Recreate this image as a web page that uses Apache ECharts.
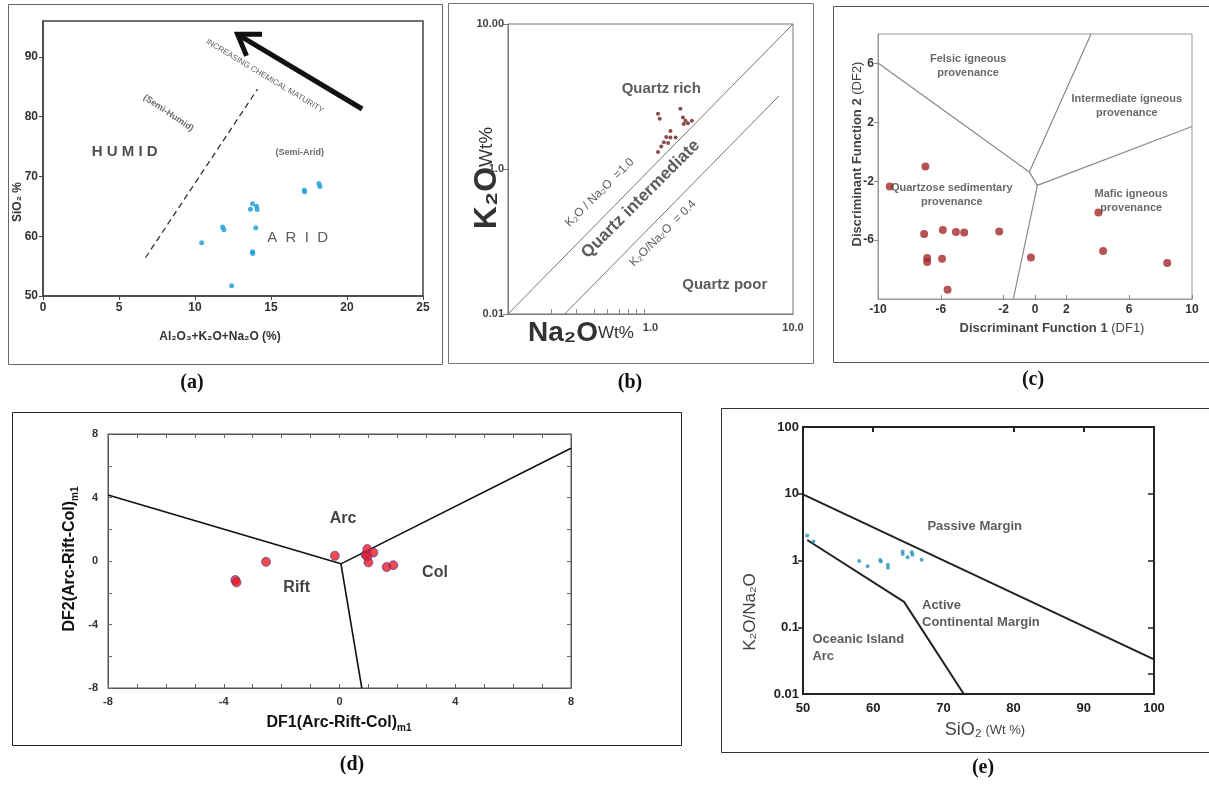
<!DOCTYPE html>
<html><head><meta charset="utf-8">
<script src="https://cdn.jsdelivr.net/npm/echarts@6/dist/echarts.min.js"></script>
<style>html,body{margin:0;padding:0;background:#fff}#c{width:1209px;height:788px}</style>
</head><body><div id="c"></div>
<script>
// ---------- Panel (a): SiO2 vs Al2O3+K2O+Na2O ----------
const aTotal = [10.44, 11.82, 11.9, 12.41, 13.78, 13.65, 14.05, 14.09, 14.0, 13.78, 13.8, 17.19, 17.21, 18.15, 18.22];
const aSiO2  = [58.9, 61.55, 61.1, 51.7, 65.45, 64.5, 65.0, 64.45, 61.4, 57.4, 57.1, 67.7, 67.45, 68.8, 68.3];
const aXTicks = [0, 5, 10, 15, 20, 25];
const aYTicks = [50, 60, 70, 80, 90];
const aBoundary = [[6.74, 56.4], [14.11, 84.6]];
const aArrowShaft = [[21.0, 81.28], [12.8, 93.78]];
const aArrowHead = [[14.41, 93.8], [12.8, 93.78], [13.39, 90.17]];

// ---------- Panel (b): K2O vs Na2O (log-log) ----------
const bNa2O = [1.129, 1.16, 1.62, 1.69, 1.76, 1.71, 1.83, 1.95, 1.38, 1.29, 1.38, 1.50, 1.24, 1.33, 1.19, 1.129];
const bK2O  = [2.40, 2.22, 2.60, 2.27, 2.15, 2.04, 2.07, 2.15, 1.83, 1.66, 1.65, 1.65, 1.53, 1.51, 1.43, 1.31];
const bXTickValues = [1, 10];
const bXTickLabels = ['1.0', '10.0'];
const bYTickValues = [0.1, 1, 10];
const bYTickLabels = ['0.01', '1.0', '10.00'];
const bMinorTicks = [0.2, 0.3, 0.4, 0.5, 0.6, 0.7, 0.8, 0.9];
const bRatio10 = [[0.1, 0.1], [10, 10]];
const bRatio04 = [[0.25, 0.1], [8, 3.2]];

// ---------- Panel (c): discriminant functions (provenance) ----------
const cDF1 = [-9.25, -6.98, -7.06, -6.87, -6.87, -5.87, -5.04, -4.51, -5.92, -5.57, -2.28, -0.26, 4.04, 4.34, 8.42];
const cDF2 = [-2.35, -1.0, -5.59, -7.22, -7.49, -5.32, -5.45, -5.48, -7.26, -9.37, -5.41, -7.18, -4.12, -6.74, -7.56];
const cXTicks = [-10, -6, -2, 0, 2, 6, 10];
const cYTicks = [-6, -2, 2, 6];
const cBoundaries = [
  [[-10, 6.03], [-0.36, -1.38], [3.57, 8]],
  [[-0.36, -1.38], [0.15, -2.28], [10, 1.72]],
  [[0.15, -2.28], [-1.38, -10]]
];

// ---------- Panel (d): DF1 / DF2 (Arc-Rift-Col) ----------
const dDF1 = [-3.6, -3.56, -2.54, -0.16, 0.9, 0.96, 1.17, 0.96, 1.0, 1.63, 1.86];
const dDF2 = [-1.2, -1.35, -0.05, 0.33, 0.4, 0.75, 0.53, 0.28, -0.09, -0.38, -0.26];
const dLabelTicks = [-8, -4, 0, 4, 8];
const dXMinorTicks = [-8,-7,-6,-5,-4,-3,-2,-1,0,1,2,3,4,5,6,7,8];
const dYMinorTicks = [-8,-6,-4,-2,0,2,4,6,8];
const dBoundaries = [
  [[-8, 4.16], [0.05, -0.18], [8, 7.1]],
  [[0.05, -0.18], [0.77, -8]]
];

// ---------- Panel (e): K2O/Na2O vs SiO2 ----------
const eSiO2  = [50.6, 51.5, 58.0, 59.2, 61.0, 61.1, 62.1, 62.1, 64.2, 64.2, 64.9, 65.5, 65.6, 66.9];
const eRatio = [2.37, 1.92, 0.986, 0.818, 1.02, 0.97, 0.867, 0.78, 1.36, 1.25, 1.12, 1.33, 1.22, 1.03];
const eXTicks = [50, 60, 70, 80, 90, 100];
const eYTicks = [0.01, 0.1, 1, 10, 100];
const eYTickLabels = ['0.01', '0.1', '1', '10', '100'];
const ePassive = [[50, 9.8], [100, 0.033]];
const eArc = [[50.6, 2.03], [64.4, 0.24], [72.9, 0.01]];

// ---------- helpers ----------
const FONT = "'Liberation Sans', Arial, Helvetica, sans-serif";
const SERIF = "'Liberation Serif', 'Times New Roman', serif";
const pts = (xs, ys) => xs.map((x, i) => [x, ys[i]]);
const lbl = (vals, labels) => v => {
  const i = vals.findIndex(t => Math.abs(t - v) < 1e-9 * Math.max(1, Math.abs(t)) || (t > 0 && v > 0 && Math.abs(Math.log10(t) - Math.log10(v)) < 1e-6));
  return i >= 0 ? labels[i] : '';
};
function lineS(xi, yi, data, style) {
  return { type: 'line', xAxisIndex: xi, yAxisIndex: yi, data, symbol: 'none', silent: true, z: 3,
    lineStyle: style, animation: false };
}
function notes(xi, yi, list) {
  return { type: 'scatter', xAxisIndex: xi, yAxisIndex: yi, silent: true, z: 6, symbolSize: 1,
    itemStyle: { color: 'rgba(0,0,0,0)' },
    data: list.map(n => ({ value: [n.x, n.y], label: { show: true, position: 'inside', formatter: n.t,
      rotate: n.r || 0, fontSize: n.s, fontWeight: n.w || 'bold', color: n.c || '#333', fontFamily: FONT,
      align: n.a || 'center', lineHeight: n.lh || Math.round(n.s * 1.25) } })) };
}
function valAxis(gi, min, max, o) {
  return Object.assign({ type: 'value', gridIndex: gi, min, max, splitLine: { show: false } }, o);
}
const line = (color, width) => ({ onZero: false, lineStyle: { color, width: width || 1 } });

// ---------- annotation text placements (layout) ----------
const aNotes = [
  { x: 5.38, y: 74.05, t: 'H U M I D', s: 15, c: '#222' },
  { x: 8.25, y: 80.6, t: '(Semi-Humid)', s: 9, r: -34, c: '#444' },
  { x: 16.89, y: 74.05, t: '(Semi-Arid)', s: 9, c: '#444' },
  { x: 16.75, y: 59.8, t: 'A  R  I  D', s: 15, w: 'normal', c: '#333' },
  { x: 14.59, y: 86.8, t: 'INCREASING CHEMICAL MATURITY', s: 8, r: -31, w: 'normal', c: '#333' }
];
const bNotes = [
  { x: 1.19, y: 3.56, t: 'Quartz rich', s: 15 },
  { x: 0.853, y: 0.619, t: 'Quartz intermediate', s: 17, r: 45 },
  { x: 0.44, y: 0.688, t: 'K₂O / Na₂O  =1.0', s: 12, r: 45, w: 'normal' },
  { x: 1.224, y: 0.36, t: 'K₂O/Na₂O  = 0.4', s: 12, r: 45, w: 'normal' },
  { x: 3.32, y: 0.158, t: 'Quartz poor', s: 15 }
];
const cNotes = [
  { x: -4.26, y: 5.8, t: 'Felsic igneous\nprovenance', s: 11, c: '#444' },
  { x: 5.85, y: 3.08, t: 'Intermediate igneous\nprovenance', s: 11, c: '#444' },
  { x: -5.3, y: -2.92, t: 'Quartzose sedimentary\nprovenance', s: 11, c: '#444' },
  { x: 6.13, y: -3.37, t: 'Mafic igneous\nprovenance', s: 11, c: '#444' }
];
const dNotes = [
  { x: 0.12, y: 2.7, t: 'Arc', s: 16, c: '#111' },
  { x: -1.48, y: -1.67, t: 'Rift', s: 16, c: '#111' },
  { x: 3.3, y: -0.7, t: 'Col', s: 16, c: '#111' }
];
const eNotes = [
  { x: 74.46, y: 3.26, t: 'Passive Margin', s: 13 },
  { x: 66.95, y: 0.158, t: 'Active\nContinental Margin', s: 13, a: 'left', lh: 17 },
  { x: 51.34, y: 0.0489, t: 'Oceanic Island\nArc', s: 13, a: 'left', lh: 17 }
];

const tickFont = (s, c) => ({ fontSize: s, fontWeight: 'bold', color: c || '#333', fontFamily: FONT });

const option = {
  animation: false,
  backgroundColor: '#fff',
  grid: [
    { left: 43, top: 21, width: 380, height: 275, show: true, borderColor: '#444', borderWidth: 1.5 },
    { left: 508, top: 24, width: 285, height: 290, show: true, borderColor: '#777', borderWidth: 1 },
    { left: 878, top: 34, width: 314, height: 265, show: true, borderColor: '#999', borderWidth: 1 },
    { left: 108, top: 434, width: 463, height: 254, show: true, borderColor: '#555', borderWidth: 1 },
    { left: 803, top: 427, width: 351, height: 267, show: true, borderColor: '#222', borderWidth: 2 }
  ],
  xAxis: [
    valAxis(0, 0, 25, { axisLine: line('#444', 1.5),
      axisTick: { customValues: aXTicks, length: 4, lineStyle: { color: '#444' } },
      axisLabel: Object.assign({ customValues: aXTicks, margin: 6 }, tickFont(12)) }),
    { type: 'log', logBase: 10, gridIndex: 1, min: 0.1, max: 10, splitLine: { show: false },
      axisLine: line('#777'),
      axisTick: { customValues: bMinorTicks, inside: true, length: 5, lineStyle: { color: '#888' } },
      axisLabel: Object.assign({ customValues: bXTickValues, formatter: lbl(bXTickValues, bXTickLabels), margin: 8 }, tickFont(11, '#444')) },
    valAxis(2, -10, 10, { axisLine: line('#999'),
      axisTick: { customValues: cXTicks, inside: true, length: 4, lineStyle: { color: '#888' } },
      axisLabel: Object.assign({ customValues: cXTicks, margin: 5 }, tickFont(12)) }),
    valAxis(3, -8, 8, { axisLine: line('#555'),
      axisTick: { customValues: dXMinorTicks, inside: true, length: 4, lineStyle: { color: '#666' } },
      axisLabel: Object.assign({ customValues: dLabelTicks, margin: 8 }, tickFont(11)) }),
    valAxis(3, -8, 8, { position: 'top', axisLine: line('#555'),
      axisTick: { customValues: dXMinorTicks, inside: true, length: 4, lineStyle: { color: '#666' } },
      axisLabel: { show: false } }),
    valAxis(4, 50, 100, { axisLine: line('#222', 2),
      axisTick: { show: false },
      axisLabel: Object.assign({ customValues: eXTicks, margin: 8 }, tickFont(13, '#222')) }),
    valAxis(4, 50, 100, { position: 'top', axisLine: line('#222', 2),
      axisTick: { customValues: [60, 80, 90], inside: true, length: 5, lineStyle: { color: '#222', width: 2 } },
      axisLabel: { show: false } })
  ],
  yAxis: [
    valAxis(0, 50, 96, { axisLine: line('#444', 1.5),
      axisTick: { customValues: aYTicks, length: 4, lineStyle: { color: '#444' } },
      axisLabel: Object.assign({ customValues: aYTicks, margin: 5 }, tickFont(12)) }),
    { type: 'log', logBase: 10, gridIndex: 1, min: 0.1, max: 10, splitLine: { show: false },
      axisLine: line('#777'),
      axisTick: { customValues: bYTickValues, length: 5, lineStyle: { color: '#777' } },
      axisLabel: Object.assign({ customValues: bYTickValues, formatter: lbl(bYTickValues, bYTickLabels), margin: 4 }, tickFont(11, '#444')) },
    valAxis(2, -10, 8, { axisLine: line('#999'),
      axisTick: { customValues: cYTicks, length: 4, lineStyle: { color: '#888' } },
      axisLabel: Object.assign({ customValues: cYTicks, margin: 4 }, tickFont(12)) }),
    valAxis(3, -8, 8, { axisLine: line('#555'),
      axisTick: { customValues: dYMinorTicks, inside: true, length: 4, lineStyle: { color: '#666' } },
      axisLabel: Object.assign({ customValues: dLabelTicks, margin: 10 }, tickFont(11)) }),
    valAxis(3, -8, 8, { position: 'right', axisLine: line('#555'),
      axisTick: { customValues: dYMinorTicks, inside: true, length: 4, lineStyle: { color: '#666' } },
      axisLabel: { show: false } }),
    { type: 'log', logBase: 10, gridIndex: 4, min: 0.01, max: 100, splitLine: { show: false },
      axisLine: line('#222', 2),
      axisTick: { customValues: [0.1, 1, 10], length: 5, lineStyle: { color: '#222', width: 1.5 } },
      axisLabel: Object.assign({ customValues: eYTicks, formatter: lbl(eYTicks, eYTickLabels), margin: 4 }, tickFont(13, '#222')) },
    { type: 'log', logBase: 10, gridIndex: 4, min: 0.01, max: 100, position: 'right', splitLine: { show: false },
      axisLine: line('#222', 2),
      axisTick: { customValues: [0.02, 0.1, 1, 10], inside: true, length: 6, lineStyle: { color: '#222', width: 1.5 } },
      axisLabel: { show: false } }
  ],
  series: [
    // (a)
    lineS(0, 0, aBoundary, { color: '#333', width: 1.3, type: [6, 4] }),
    lineS(0, 0, aArrowShaft, { color: '#111', width: 5 }),
    lineS(0, 0, aArrowHead, { color: '#111', width: 5, join: 'miter' }),
    { type: 'scatter', xAxisIndex: 0, yAxisIndex: 0, data: pts(aTotal, aSiO2), symbolSize: 5,
      itemStyle: { color: '#1a9ad4' }, z: 4 },
    notes(0, 0, aNotes),
    // (b)
    lineS(1, 1, bRatio10, { color: '#777', width: 1 }),
    lineS(1, 1, bRatio04, { color: '#777', width: 1 }),
    { type: 'scatter', xAxisIndex: 1, yAxisIndex: 1, data: pts(bNa2O, bK2O), symbolSize: 4,
      itemStyle: { color: '#6a2121' }, z: 4 },
    notes(1, 1, bNotes),
    // (c)
    ...cBoundaries.map(b => lineS(2, 2, b, { color: '#888', width: 1.2 })),
    { type: 'scatter', xAxisIndex: 2, yAxisIndex: 2, data: pts(cDF1, cDF2), symbolSize: 8,
      itemStyle: { color: '#a3282b' }, z: 4 },
    notes(2, 2, cNotes),
    // (d)
    ...dBoundaries.map(b => lineS(3, 3, b, { color: '#111', width: 1.6 })),
    { type: 'scatter', xAxisIndex: 3, yAxisIndex: 3, data: pts(dDF1, dDF2), symbolSize: 9,
      itemStyle: { color: '#ec1c24', borderColor: '#3b3b9e', borderWidth: 0.8 }, z: 4 },
    notes(3, 3, dNotes),
    // (e)
    lineS(5, 5, ePassive, { color: '#222', width: 2 }),
    lineS(5, 5, eArc, { color: '#222', width: 2 }),
    { type: 'scatter', xAxisIndex: 5, yAxisIndex: 5, data: pts(eSiO2, eRatio), symbolSize: 4,
      itemStyle: { color: '#2b93b8' }, z: 4 },
    notes(5, 5, eNotes)
  ],
  graphic: [
    // panel frames
    { type: 'rect', shape: { x: 8.5, y: 4.5, width: 434, height: 360 }, style: { fill: 'none', stroke: '#666', lineWidth: 1 }, silent: true },
    { type: 'rect', shape: { x: 448.5, y: 3.5, width: 365, height: 360 }, style: { fill: 'none', stroke: '#777', lineWidth: 1 }, silent: true },
    { type: 'rect', shape: { x: 833.5, y: 6.5, width: 380, height: 356 }, style: { fill: 'none', stroke: '#555', lineWidth: 1 }, silent: true },
    { type: 'rect', shape: { x: 12.5, y: 412.5, width: 669, height: 333 }, style: { fill: 'none', stroke: '#222', lineWidth: 1 }, silent: true },
    { type: 'rect', shape: { x: 721.5, y: 408.5, width: 492, height: 344 }, style: { fill: 'none', stroke: '#333', lineWidth: 1 }, silent: true },
    // panel letters
    ...[['(a)', 192, 383], ['(b)', 630, 383], ['(c)', 1033, 380], ['(d)', 352, 765], ['(e)', 983, 768]].map(p => ({
      type: 'text', x: p[1], y: p[2], silent: true,
      style: { text: p[0], fontFamily: SERIF, fontWeight: 'bold', fontSize: 20, fill: '#111', align: 'center', verticalAlign: 'middle' } })),
    // (a) axis titles
    { type: 'text', x: 18, y: 202, rotation: Math.PI / 2, silent: true,
      style: { text: 'SiO₂ %', fontFamily: FONT, fontWeight: 'bold', fontSize: 12, fill: '#333', align: 'center', verticalAlign: 'middle' } },
    { type: 'text', x: 220, y: 337, silent: true,
      style: { text: 'Al₂O₃+K₂O+Na₂O (%)', fontFamily: FONT, fontWeight: 'bold', fontSize: 12, fill: '#333', align: 'center', verticalAlign: 'middle' } },
    // (b) axis titles
    { type: 'text', x: 487, y: 178, rotation: Math.PI / 2, silent: true,
      style: { text: '{a|K₂O}{b|Wt%}', align: 'center', verticalAlign: 'middle',
        rich: { a: { fontFamily: FONT, fontWeight: 'bold', fontSize: 32, fill: '#333' }, b: { fontFamily: FONT, fontSize: 19, fill: '#333' } } } },
    { type: 'text', x: 528, y: 333, silent: true,
      style: { text: '{a|Na₂O}{b|Wt%}', align: 'left', verticalAlign: 'middle',
        rich: { a: { fontFamily: FONT, fontWeight: 'bold', fontSize: 28, fill: '#333' }, b: { fontFamily: FONT, fontSize: 17, fill: '#333' } } } },
    // (c) axis titles
    { type: 'text', x: 1052, y: 328, silent: true,
      style: { text: '{a|Discriminant Function 1 }{b|(DF1)}', align: 'center', verticalAlign: 'middle',
        rich: { a: { fontFamily: FONT, fontWeight: 'bold', fontSize: 13, fill: '#444' }, b: { fontFamily: FONT, fontSize: 13, fill: '#444' } } } },
    { type: 'text', x: 857, y: 154, rotation: Math.PI / 2, silent: true,
      style: { text: '{a|Discriminant Function 2 }{b|(DF2)}', align: 'center', verticalAlign: 'middle',
        rich: { a: { fontFamily: FONT, fontWeight: 'bold', fontSize: 13, fill: '#444' }, b: { fontFamily: FONT, fontSize: 13, fill: '#444' } } } },
    // (d) axis titles
    { type: 'text', x: 339, y: 723, silent: true,
      style: { text: '{a|DF1(Arc-Rift-Col)}{b|m1}', align: 'center', verticalAlign: 'middle',
        rich: { a: { fontFamily: FONT, fontWeight: 'bold', fontSize: 16, fill: '#111', lineHeight: 20 },
                b: { fontFamily: FONT, fontWeight: 'bold', fontSize: 10, fill: '#111', lineHeight: 20, verticalAlign: 'bottom' } } } },
    { type: 'text', x: 70, y: 559, rotation: Math.PI / 2, silent: true,
      style: { text: '{a|DF2(Arc-Rift-Col)}{b|m1}', align: 'center', verticalAlign: 'middle',
        rich: { a: { fontFamily: FONT, fontWeight: 'bold', fontSize: 16, fill: '#111', lineHeight: 20 },
                b: { fontFamily: FONT, fontWeight: 'bold', fontSize: 10, fill: '#111', lineHeight: 20, verticalAlign: 'bottom' } } } },
    // (e) axis titles
    { type: 'text', x: 750, y: 612, rotation: Math.PI / 2, silent: true,
      style: { text: 'K₂O/Na₂O', fontFamily: FONT, fontSize: 17, fill: '#444', align: 'center', verticalAlign: 'middle' } },
    { type: 'text', x: 985, y: 730, silent: true,
      style: { text: '{a|SiO₂}{b| (Wt %)}', align: 'center', verticalAlign: 'middle',
        rich: { a: { fontFamily: FONT, fontSize: 18, fill: '#444' }, b: { fontFamily: FONT, fontSize: 13, fill: '#444' } } } }
  ]
};

const chart = echarts.init(document.getElementById('c'), null, { renderer: 'canvas', width: 1209, height: 788 });
chart.setOption(option);
</script>
</body></html>
